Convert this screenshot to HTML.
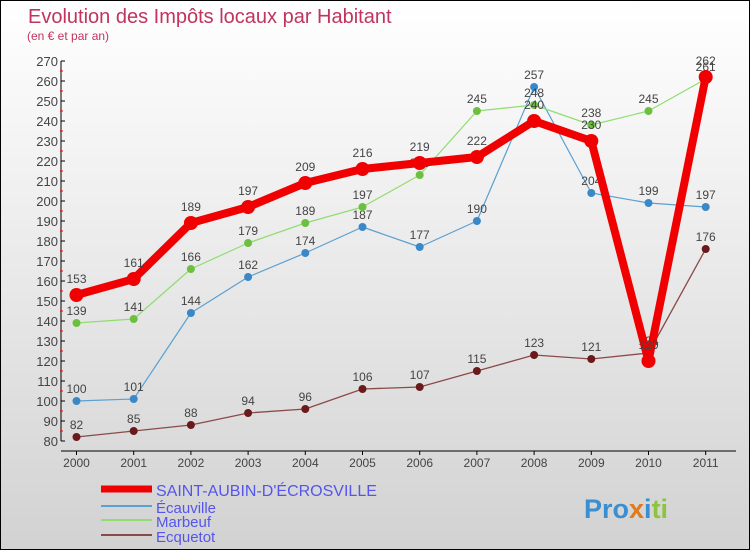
<!DOCTYPE html>
<html><head><meta charset="utf-8"><style>
body{margin:0}
#c{width:750px;height:550px;position:relative;box-sizing:border-box;border:1px solid #000;background:linear-gradient(#ffffff,#f2f2f2 30%,#d2d2d2);font-family:"Liberation Sans",sans-serif;overflow:hidden}
svg text{font-family:"Liberation Sans",sans-serif}
</style></head><body>
<div id="c">
<svg width="750" height="550" id="s">
<text x="27" y="22" font-size="20" fill="#c0345e">Evolution des Impôts locaux par Habitant</text>
<text x="26" y="39" font-size="12" fill="#c0345e">(en € et par an)</text>
<g id="axes"></g><g id="series"></g><g id="legend"></g>
<text x="583" y="517" font-size="27" font-weight="bold"><tspan fill="#3b8fd0">Pro</tspan><tspan fill="#e07a1a">x</tspan><tspan fill="#3b8fd0">i</tspan><tspan fill="#8bc53f">ti</tspan></text>
</svg></div>
<script>
const years=[2000,2001,2002,2003,2004,2005,2006,2007,2008,2009,2010,2011];
const yTicks=[80,90,100,110,120,130,140,150,160,170,180,190,200,210,220,230,240,250,260,270];
const saintAubin=[153,161,189,197,209,216,219,222,240,230,120,262];
const ecauville=[100,101,144,162,174,187,177,190,257,204,199,197];
const marbeuf=[139,141,166,179,189,197,213,245,248,238,245,261];
const ecquetot=[82,85,88,94,96,106,107,115,123,121,124,176];
const names=["SAINT-AUBIN-D'ÉCROSVILLE","Écauville","Marbeuf","Ecquetot"];
const NS="http://www.w3.org/2000/svg";
const X=i=>75.5+i*57.2;
const Y=v=>440-(v-80)*2;
function mk(t,a,p){const e=document.createElementNS(NS,t);for(const k in a)e.setAttribute(k,a[k]);p.appendChild(e);return e;}
const ax=document.getElementById('axes');
let l=mk('line',{x1:60,y1:Y(270),x2:60,y2:Y(80),stroke:'#000'},ax);


l=mk('line',{x1:60,y1:450,x2:735,y2:450,stroke:'#000'},ax);


yTicks.forEach(v=>{
 let t=mk('line',{x1:60,x2:64,y1:Y(v),y2:Y(v),stroke:'#000'},ax);
 
 
 if(v<270){let m=mk('line',{x1:59,x2:62,y1:Y(v+5),y2:Y(v+5),stroke:'#f00'},ax);
 
 }
 let tx=mk('text',{x:57,y:Y(v)+5,'text-anchor':'end','font-size':13,fill:'#444'},ax);
 tx.textContent=v;
 
 
});
years.forEach((y,i)=>{
 let t=mk('line',{x1:X(i),x2:X(i),y1:450,y2:454,stroke:'#000'},ax);
 
 
 let tx=mk('text',{x:X(i),y:466,'text-anchor':'middle','font-size':12,fill:'#444'},ax);
 tx.textContent=y;
 
 
});
const sg=document.getElementById('series');
function draw(data,color,dot,w,r,name){
 const g=mk('g',{},sg);
 
 
 const p=mk('polyline',{points:data.map((v,i)=>X(i)+','+Y(v)).join(' '),fill:'none',stroke:color,'stroke-width':w,'stroke-linejoin':'round'},g);
 
 
 data.forEach((v,i)=>{
  const c=mk('circle',{cx:X(i),cy:Y(v),r:r,fill:dot},g);
  
  
  const t=mk('text',{x:X(i),y:Y(v)-8-(r>4?4:0),'text-anchor':'middle','font-size':12,fill:'#444'},g);
  t.textContent=v;
  
  
 });
}
draw(ecquetot,'#8b4a4a','#6a1a1a',1.3,4,'ecquetot-series');
draw(ecauville,'#5aa0d0','#3a88c8',1.2,4,'ecauville-series');
draw(marbeuf,'#90dd70','#6cc040',1.2,4,'marbeuf-series');
draw(saintAubin,'#f00000','#f00000',8,7,'saint-aubin-series');
const lg=document.getElementById('legend');
const lc=[['#f00000',7],['#5aa0d0',2],['#90dd70',2],['#8b4a4a',2]];
const ly=[491,508,522,537];
names.forEach((n,i)=>{
 const s=mk('line',{x1:100,x2:151,y1:ly[i]-3,y2:ly[i]-3,stroke:lc[i][0],'stroke-width':lc[i][1]},lg);
 
 
 const t=mk('text',{x:155,y:ly[i]+4,'font-size':i==0?16:15,fill:'#5555ee'},lg);
 t.textContent=n;
 
 
});
</script>
</body></html>
